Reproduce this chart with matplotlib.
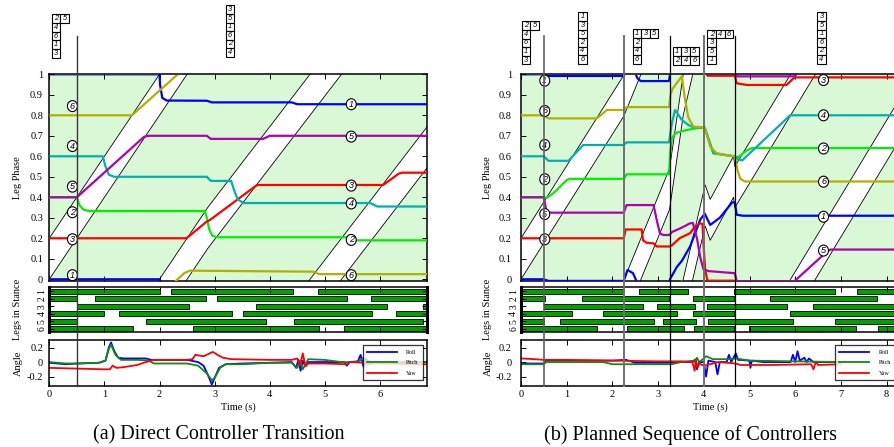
import numpy as np
import matplotlib.pyplot as plt
from matplotlib.patches import Rectangle, Ellipse
from matplotlib.lines import Line2D

plt.rcParams['font.family'] = ['Liberation Serif', 'DejaVu Serif']

W, H = 894, 447
fig = plt.figure(figsize=(W / 100, H / 100), dpi=100)

leg_colors = ['#0000ff', '#00ee00', '#ff0000', '#00b0b0', '#b000b0', '#b0b000']
band_green = '#d9f8d6'
stance_green = '#00a000'

# ---------------- (a) direct controller transition ----------------
a_clock_t = [0, 2.88, 6.9]
a_clock = [0, 1.152, 2.559]

a_leg1_t = [0, 2.0, 2.01, 2.05, 2.13, 2.86, 2.95, 4.40, 4.50, 6.9]
a_leg1 = [0, 0, -0.05, -0.115, -0.128, -0.129, -0.137, -0.137, -0.146, -0.146]
a_leg2_t = [0, 0.5, 0.55, 0.62, 0.72, 2.82, 2.86, 2.90, 2.96, 3.05, 5.38, 5.48, 6.9]
a_leg2 = [0.4, 0.4, 0.36, 0.34, 0.333, 0.333, 0.30, 0.245, 0.212, 0.205, 0.205, 0.19, 0.19]
a_leg3_t = [0, 2.49, 2.86, 2.92, 3.76, 3.80, 6.06, 6.34, 6.40, 6.9]
a_leg3 = [0.2, 0.2, 0.282, 0.29, 0.458, 0.46, 0.46, 0.515, 0.52, 0.52]
a_leg4_t = [0, 0.97, 1.02, 1.08, 1.18, 2.86, 2.93, 3.30, 3.36, 3.42, 3.52, 5.82, 5.95, 6.9]
a_leg4 = [0.6, 0.6, 0.55, 0.51, 0.50, 0.50, 0.48, 0.48, 0.43, 0.39, 0.372, 0.372, 0.355, 0.355]
a_leg5_t = [0, 0.5, 1.72, 1.80, 2.86, 2.93, 3.88, 4.0, 6.9]
a_leg5 = [0.4, 0.4, 0.695, 0.70, 0.70, 0.685, 0.685, 0.70, 0.70]
a_leg6_t = [0, 1.50, 2.31, 2.45, 2.55, 4.79, 4.90, 6.9]
a_leg6 = [0.8, 0.8, 0.995, 1.03, 1.042, 1.037, 1.025, 1.025]

a_stance = [
    [(0, 2.0), (2.2, 4.43), (4.88, 6.9)],
    [(0, 0.51), (0.83, 2.84), (3.05, 5.40), (5.84, 6.9)],
    [(0.5, 2.53), (3.76, 6.12), (6.78, 6.9)],
    [(0, 1.0), (1.26, 3.32), (3.52, 5.86), (6.30, 6.9)],
    [(0, 0.51), (1.75, 3.93), (4.44, 6.79)],
    [(0, 1.52), (2.61, 4.90), (5.35, 6.9)],
]

a_roll_t = [0, 0.3, 0.5, 0.9, 1.02, 1.08, 1.12, 1.18, 1.25, 1.35, 1.75, 1.85, 2.0, 2.5,
            2.7, 2.8, 2.88, 2.95, 3.0, 3.08, 3.2, 3.5, 4.0, 4.4, 4.48, 4.52, 4.56, 4.6,
            4.64, 4.7, 5.35, 5.4, 5.45, 5.6, 5.65, 5.7, 5.75, 5.8, 6.85]
a_roll = [-0.01, -0.03, -0.02, -0.01, 0.02, 0.2, 0.27, 0.15, 0.06, 0.05, 0.05, 0.03, 0.03,
          0.03, 0.0, -0.05, -0.18, -0.31, -0.22, -0.08, -0.03, -0.02, -0.01, 0.0, -0.08,
          0.03, -0.12, 0.02, -0.05, 0.0, 0.0, -0.05, 0.0, 0.01, 0.1, -0.06, 0.05, 0.0, 0.0]
a_pitch_t = [0, 0.3, 0.5, 0.9, 1.02, 1.08, 1.12, 1.2, 1.3, 1.6, 1.8, 1.9, 2.5, 2.7, 2.85,
             2.95, 3.0, 3.1, 3.2, 3.5, 4.0, 4.4, 4.5, 4.55, 4.6, 4.7, 5.0, 5.3, 5.6, 5.7,
             5.75, 6.0, 6.85]
a_pitch = [0.0, -0.02, -0.02, -0.01, 0.02, 0.18, 0.24, 0.1, 0.03, 0.03, 0.02, -0.02, -0.02,
           -0.05, -0.15, -0.25, -0.22, -0.08, -0.03, -0.03, -0.01, -0.01, -0.08, 0.02, -0.1,
           0.04, 0.03, 0.0, 0.0, 0.06, -0.04, 0.0, 0.0]
a_yaw_t = [0, 0.5, 1.0, 1.1, 1.15, 1.22, 1.35, 1.6, 1.75, 1.9, 2.5, 2.6, 2.65, 2.8, 2.97,
           3.05, 3.15, 3.3, 4.0, 4.4, 4.5, 4.55, 4.6, 4.65, 4.7, 5.0, 5.4, 5.45, 6.0, 6.85]
a_yaw = [-0.08, -0.09, -0.1, -0.1, -0.05, -0.08, -0.07, -0.04, 0.0, 0.03, 0.03, 0.04, 0.1,
         0.08, 0.14, 0.1, 0.06, 0.04, 0.03, 0.03, 0.05, -0.05, 0.12, -0.06, -0.02, -0.02,
         -0.03, 0.0, -0.02, -0.03]

a_switch_t = [0.5]
a_gaits = [[[2, 5], [4], [6], [1], [3]],
           [[3], [5], [1], [6], [2], [4]]]
a_labels_left = [0.02, 0.327, 0.195, 0.65, 0.452, 0.845]
a_labels_right = [0.854, 0.192, 0.457, 0.37, 0.696, 0.02]

# ---------------- (b) planned sequence of controllers ----------------
b_clock_t = [0, 2.25, 3.25, 3.55, 4.03, 4.14, 4.65, 4.68, 8.3]
b_clock = [0, 0.796, 1.34, 1.80, 2.26, 2.19, 2.40, 2.35, 3.686]

b_leg1_t = [0, 0.5, 0.6, 2.25, 2.33, 2.45, 2.55, 2.62, 3.24, 3.26, 3.41, 3.52, 3.70,
            3.92, 4.02, 4.14, 4.35, 4.62, 4.68, 4.72, 4.85, 8.3]
b_leg1 = [0, 0, -0.008, -0.008, 0.045, 0.03, -0.02, -0.033, -0.033, 0.0, 0.06, 0.09,
          0.16, 0.29, 0.32, 0.265, 0.30, 0.375, 0.375, 0.315, 0.31, 0.31]
b_leg2_t = [0, 0.5, 0.56, 0.71, 1.0, 1.08, 2.25, 2.31, 3.24, 3.26, 3.30, 3.40, 3.62, 3.84,
            4.02, 4.14, 4.21, 4.65, 4.68, 4.75, 4.95, 5.05, 8.3]
b_leg2 = [0.4, 0.4, 0.397, 0.42, 0.484, 0.49, 0.49, 0.512, 0.512, 0.60, 0.69, 0.715, 0.728,
          0.737, 0.74, 0.66, 0.615, 0.60, 0.60, 0.595, 0.63, 0.64, 0.64]
b_leg3_t = [0, 2.25, 2.29, 2.64, 2.67, 2.75, 2.90, 2.97, 3.25, 3.30, 3.47, 3.70, 3.80,
            3.92, 3.97, 4.00, 4.03, 4.08, 4.68, 4.72, 4.94, 5.81, 5.96, 6.02, 8.3]
b_leg3 = [0.2, 0.2, 0.243, 0.243, 0.19, 0.178, 0.175, 0.16, 0.16, 0.165, 0.20, 0.225, 0.255,
          0.273, 0.27, 0.15, 0.045, -0.007, -0.007, -0.044, -0.052, -0.052, -0.02, -0.015,
          -0.015]
b_leg4_t = [0, 0.5, 0.6, 1.04, 1.36, 2.25, 2.31, 3.24, 3.30, 3.37, 3.45, 3.52, 3.66, 3.77,
            4.02, 4.14, 4.21, 4.65, 4.68, 4.75, 4.84, 5.89, 5.95, 8.3]
b_leg4 = [0.6, 0.6, 0.578, 0.578, 0.655, 0.655, 0.668, 0.668, 0.76, 0.826, 0.80, 0.777,
          0.753, 0.742, 0.74, 0.66, 0.615, 0.60, 0.60, 0.585, 0.58, 0.80, 0.80, 0.80]
b_leg5_t = [0, 0.5, 0.55, 0.62, 2.25, 2.31, 2.90, 2.97, 3.04, 3.11, 3.25, 3.30, 3.50,
            3.70, 3.76, 3.85, 3.92, 3.99, 4.10, 4.65, 4.68, 4.72, 5.98, 6.72, 6.78, 8.3]
b_leg5 = [0.4, 0.4, 0.34, 0.325, 0.325, 0.362, 0.362, 0.289, 0.224, 0.216, 0.216, 0.23,
          0.25, 0.273, 0.275, 0.20, 0.11, 0.05, 0.04, 0.03, 0.03, -0.01, -0.01, 0.14,
          0.145, 0.145]
b_leg6_t = [0, 0.5, 0.6, 1.66, 1.88, 2.25, 2.31, 3.24, 3.27, 3.32, 3.40, 3.52, 3.58, 3.66,
            3.77, 4.02, 4.14, 4.28, 4.65, 4.68, 4.74, 4.80, 4.90, 8.3]
b_leg6 = [0.8, 0.8, 0.785, 0.785, 0.826, 0.826, 0.84, 0.84, 0.90, 0.93, 0.955, 0.99, 0.89,
          0.79, 0.745, 0.74, 0.647, 0.615, 0.60, 0.60, 0.53, 0.49, 0.477, 0.477]

b_stance = [
    [(0, 2.26), (2.59, 3.65), (4.66, 6.86), (7.35, 8.3)],
    [(0, 0.53), (1.34, 3.24), (3.77, 4.65), (5.45, 7.80)],
    [(0.5, 2.68), (2.98, 3.81), (4.08, 5.83), (6.40, 8.3)],
    [(0, 1.11), (1.80, 3.42), (3.77, 4.66), (5.89, 8.3)],
    [(0, 0.5), (0.86, 2.92), (3.10, 3.83), (4.09, 5.95), (6.88, 8.3)],
    [(0, 1.67), (2.33, 3.56), (3.79, 4.67), (4.98, 7.33), (7.82, 8.3)],
]

b_roll_t = [0, 0.5, 0.55, 1.0, 2.0, 2.3, 2.5, 3.2, 3.5, 3.75, 3.8, 3.85, 3.9, 4.0, 4.05,
            4.1, 4.25, 4.3, 4.35, 4.5, 4.55, 4.6, 4.7, 4.75, 4.8, 5.0, 5.02, 5.05, 5.3,
            5.9, 5.95, 6.0, 6.05, 6.1, 6.2, 6.25, 6.3, 6.4, 6.5, 7.0]
b_roll = [-0.02, -0.02, 0.02, 0.02, 0.02, 0.03, -0.01, -0.01, 0.0, 0.0, 0.03, -0.1, 0.0,
          0.0, -0.2, 0.02, 0.0, -0.17, 0.0, 0.0, 0.1, 0.0, 0.12, 0.03, 0.03, 0.02, -0.08,
          0.02, 0.0, 0.0, 0.1, 0.0, 0.15, 0.02, 0.06, 0.0, 0.05, 0.0, 0.0, 0.0]
b_pitch_t = [0, 0.5, 0.55, 1.8, 2.0, 3.3, 3.5, 3.8, 3.85, 3.9, 4.0, 4.05, 4.2, 4.5, 4.7,
             5.0, 6.0, 7.0]
b_pitch = [-0.03, -0.03, 0.0, 0.0, -0.03, -0.03, 0.0, 0.02, 0.06, 0.0, 0.05, 0.08, 0.04,
           0.04, 0.05, 0.02, 0.01, 0.0]
b_yaw_t = [0, 0.3, 0.5, 1.0, 2.0, 3.0, 3.5, 3.75, 3.8, 3.83, 3.86, 3.9, 4.0, 4.2, 4.3,
           4.7, 4.8, 5.5, 6.35, 6.4, 6.45, 6.5, 7.0]
b_yaw = [0.05, 0.04, 0.03, 0.03, 0.02, 0.01, 0.01, 0.0, -0.12, 0.03, -0.08, -0.02, -0.05,
         -0.02, 0.0, -0.02, -0.04, -0.04, -0.03, -0.1, 0.0, -0.04, -0.03]

b_switch_t = [0.5, 2.25, 3.25, 4.0, 4.68]
b_gaits = [[[2, 5], [4], [6], [1], [3]],
           [[1], [3], [5], [2], [4], [6]],
           [[1, 3, 5], [2], [4], [6]],
           [[1, 3, 5], [2, 4, 6]],
           [[2, 4, 6], [3], [5], [1]],
           [[3], [5], [1], [6], [2], [4]]]
b_labels_left = [0.969, 0.488, 0.195, 0.655, 0.318, 0.821]
b_labels_right = [0.305, 0.638, 0.972, 0.80, 0.14, 0.476]

# ---------------- layout (pixels from top-left) ----------------
PH_TOP, PH_BOT = 74.3, 280.5
ST_TOP, ST_BOT = 287.3, 332.3
AN_TOP, AN_BOT = 340.3, 386.0
CELL = 8.6
a_switch_style = [('#383838', 1.0)]
b_switch_style = [('#606060', 1.2), ('#707070', 1.4), ('black', 0.9), ('#707070', 1.4),
                  ('black', 0.9)]


def px_axes(x0, w, top, bot):
    return fig.add_axes([x0 / W, 1 - bot / H, w / W, (bot - top) / H])


def style_ticks(ax, ypad):
    ax.tick_params(direction='in', top=True, right=True, length=3.5, width=0.7,
                   labelsize=7.5, pad=4)
    ax.tick_params(axis='y', pad=ypad)
    for s in ax.spines.values():
        s.set_linewidth(1.1)


def circle_label(ax, t, y, n, sx):
    ax.add_patch(Ellipse((t, y), 10 / sx, 11 / 205, facecolor='white', edgecolor='black',
                         lw=0.8, zorder=6))
    ax.text(t, y, str(n), ha='center', va='center', fontsize=6.5, style='italic',
            family='Liberation Sans', zorder=7)


def draw_panel(x0, sx, xmax, clock_t, clock, legs, stance, angles, switches, sw_style,
               gaits, gait_pos, lab_t, labels_left, labels_right, xticks, caption, ylab_x,
               ypad):
    width = xmax * sx
    # leg phase: white swing band between clock and clock + 0.2, wrapped mod 1
    ax = px_axes(x0, width, PH_TOP, PH_BOT)
    ax.set_facecolor(band_green)
    ct = np.array(clock_t)
    cv = np.array(clock)
    for k in range(-4, 2):
        ax.fill_between(ct, cv + k, cv + 0.2 + k, color='white', lw=0, zorder=1)
        ax.plot(ct, cv + k, color='black', lw=0.6, zorder=1.5)
        ax.plot(ct, cv + 0.2 + k, color='black', lw=0.6, zorder=1.5)
    # keep phase 0 from showing again along the top edge
    clip = Rectangle((0, -0.01), xmax, 1.006, transform=ax.transData)
    for (lt, lv), c in zip(legs, leg_colors):
        lv = np.array(lv)
        for k in (-2, -1, 0, 1):
            ln, = ax.plot(lt, lv + k, color=c, lw=1.6, zorder=3, solid_capstyle='butt')
            ln.set_clip_path(clip)
    for i in range(6):
        circle_label(ax, lab_t[0], labels_left[i], i + 1, sx)
        circle_label(ax, lab_t[1], labels_right[i], i + 1, sx)
    ax.set_xlim(0, xmax)
    ax.set_ylim(-0.006, 1.0)
    ax.set_yticks(np.round(np.arange(0, 1.01, 0.1), 1))
    ax.set_yticklabels(['0'] + ['%.1f' % v for v in np.arange(0.1, 0.95, 0.1)] + ['1'])
    ax.set_xticks(xticks)
    ax.set_xticklabels([])
    style_ticks(ax, ypad)

    # legs in stance
    ax2 = px_axes(x0, width, ST_TOP, ST_BOT)
    for i, bars in enumerate(stance):
        ax2.broken_barh([(s, e - s) for s, e in bars], (i + 1 - 0.32, 0.64),
                        facecolor=stance_green, edgecolor='black', lw=0.6)
    ax2.set_xlim(0, xmax)
    ax2.set_ylim(6.45, 0.5)
    ax2.set_yticks(range(1, 7))
    ax2.set_xticks(xticks)
    ax2.set_xticklabels([])
    style_ticks(ax2, 2)
    ax2.tick_params(axis='y', labelsize=7)
    for lab in ax2.get_yticklabels():
        lab.set_rotation(90)
        lab.set_va('center')
    ax2.spines['left'].set_linewidth(2.2)
    ax2.spines['right'].set_linewidth(2.2)

    # body angles
    ax3 = px_axes(x0, width, AN_TOP, AN_BOT)
    names = ['Roll', 'Pitch', 'Yaw']
    cols = ['#0000ff', '#108a10', '#ff0000']
    for (at, av), nm, c in zip(angles, names, cols):
        ax3.plot(at, av, color=c, lw=1.3, label=nm)
    ax3.set_xlim(0, xmax)
    ax3.set_ylim(-0.33, 0.3)
    ax3.set_yticks([-0.2, 0, 0.2])
    ax3.set_yticklabels(['-0.2', '0', '0.2'])
    ax3.set_xticks(xticks)
    style_ticks(ax3, ypad)
    ax3.tick_params(axis='x', pad=3)
    leg = ax3.legend(loc='upper right', bbox_to_anchor=(1 - 4 / width, 1 - 5 / 45.7),
                     fontsize=4.3, frameon=True, fancybox=False, handlelength=5,
                     borderpad=0.7, labelspacing=0.9, handletextpad=1.6,
                     borderaxespad=0)
    leg.get_frame().set_edgecolor('black')
    leg.get_frame().set_linewidth(0.9)

    # controller switch markers across all three axes
    for st, (sc, sw) in zip(switches, sw_style):
        xf = (x0 + st * sx) / W
        fig.add_artist(Line2D([xf, xf], [1 - 36 / H, 1 - AN_BOT / H],
                              transform=fig.transFigure, color=sc, lw=sw, zorder=5))

    # gait sequence boxes
    for rows, (gt, gy) in zip(gaits, gait_pos):
        gx = x0 + gt * sx
        for r, row in enumerate(rows):
            for c, n in enumerate(row):
                cx = gx + c * CELL
                cy = gy + r * CELL
                fig.add_artist(Rectangle((cx / W, 1 - (cy + CELL) / H), CELL / W, CELL / H,
                                         transform=fig.transFigure, facecolor='white',
                                         edgecolor='black', lw=0.8))
                fig.text((cx + CELL / 2) / W, 1 - (cy + CELL / 2) / H, str(n),
                         ha='center', va='center', fontsize=5.4, style='italic',
                         family='Liberation Sans')

    fig.text(ylab_x / W, 1 - (PH_TOP + PH_BOT) / 2 / H, 'Leg Phase', rotation=90,
             ha='center', va='center', fontsize=7.5)
    fig.text(ylab_x / W, 1 - (ST_TOP + ST_BOT) / 2 / H, 'Legs in Stance', rotation=90,
             ha='center', va='center', fontsize=7.5)
    fig.text(ylab_x / W, 1 - (AN_TOP + AN_BOT) / 2 / H, 'Angle', rotation=90,
             ha='center', va='center', fontsize=7.5)
    fig.text((x0 + width / 2) / W, 1 - 407 / H, 'Time (s)', ha='center', va='center',
             fontsize=7.5)
    fig.text((x0 + width / 2 - 19) / W, 1 - 435 / H, caption, ha='center', va='center',
             fontsize=14.5)


a_legs = [(a_leg1_t, a_leg1), (a_leg2_t, a_leg2), (a_leg3_t, a_leg3),
          (a_leg4_t, a_leg4), (a_leg5_t, a_leg5), (a_leg6_t, a_leg6)]
b_legs = [(b_leg1_t, b_leg1), (b_leg2_t, b_leg2), (b_leg3_t, b_leg3),
          (b_leg4_t, b_leg4), (b_leg5_t, b_leg5), (b_leg6_t, b_leg6)]

draw_panel(49.3, 55.1, 6.85, a_clock_t, a_clock, a_legs, a_stance,
           [(a_roll_t, a_roll), (a_pitch_t, a_pitch), (a_yaw_t, a_yaw)],
           a_switch_t, a_switch_style, a_gaits, [(0.04, 14.5), (3.2, 5.3)], (0.42, 5.48),
           a_labels_left, a_labels_right, range(0, 7),
           '(a) Direct Controller Transition', 18, 4.5)

draw_panel(521.0, 45.7, 8.27, b_clock_t, b_clock, b_legs, b_stance,
           [(b_roll_t, b_roll), (b_pitch_t, b_pitch), (b_yaw_t, b_yaw)],
           b_switch_t, b_switch_style, b_gaits,
           [(0.015, 21.3), (1.25, 12.3), (2.44, 29.3), (3.32, 47.3), (4.08, 29.7),
            (6.48, 12.3)], (0.52, 6.62),
           b_labels_left, b_labels_right, range(0, 9),
           '(b) Planned Sequence of Controllers', 488, 6.5)

fig.savefig('out.png', dpi=100)
